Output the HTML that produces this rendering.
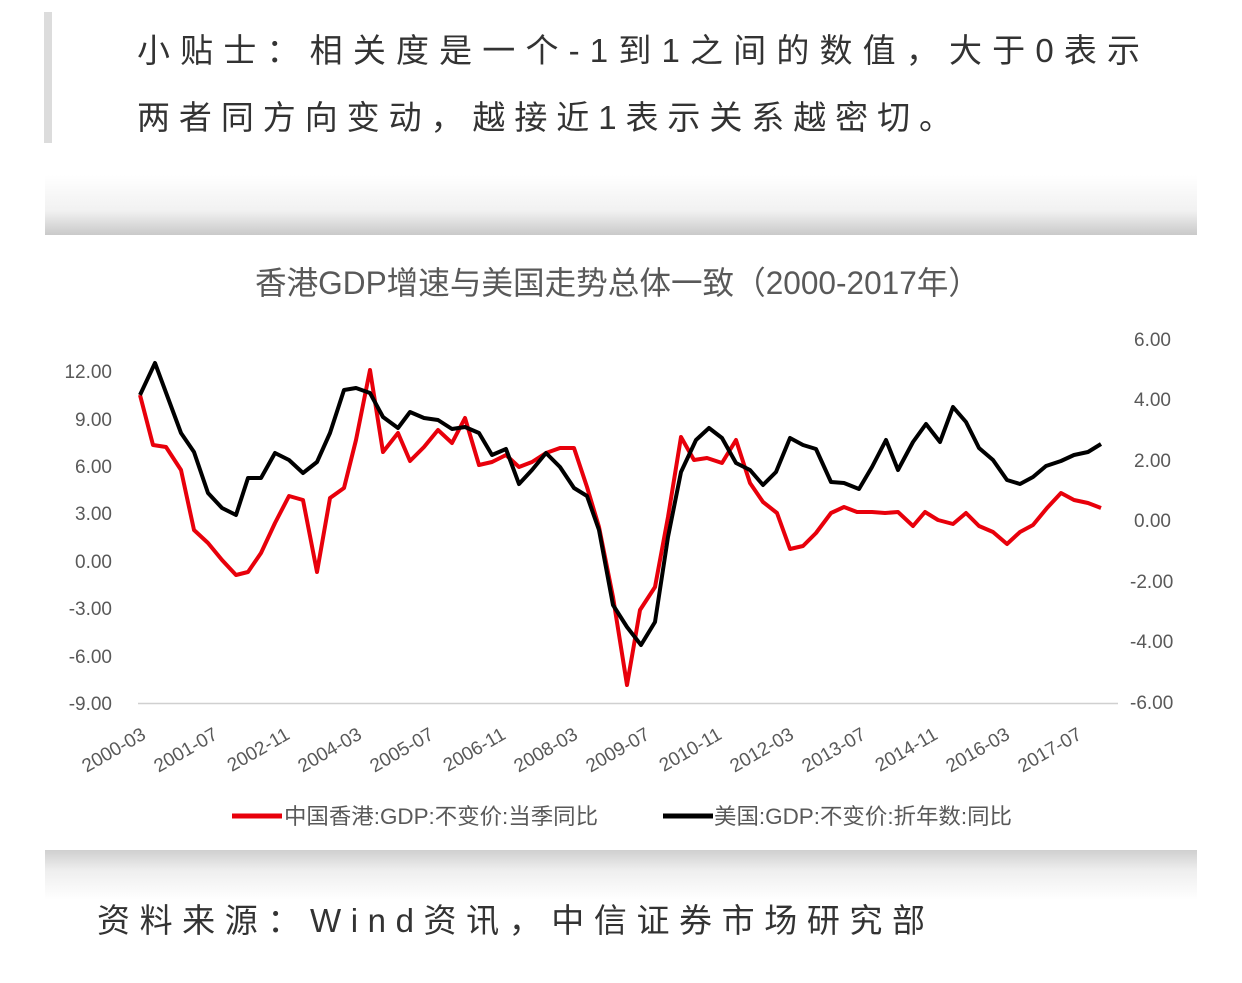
<!DOCTYPE html>
<html><head><meta charset="utf-8"><style>
html,body{margin:0;padding:0;background:#fff;}
svg{display:block;}
</style></head><body>
<svg width="1242" height="983" viewBox="0 0 1242 983" xmlns="http://www.w3.org/2000/svg">
<defs>
<linearGradient id="g1" x1="0" y1="0" x2="0" y2="1">
<stop offset="0" stop-color="#fff"/><stop offset="0.6" stop-color="#f1f1f1"/><stop offset="1" stop-color="#c9c9c9"/>
</linearGradient>
<linearGradient id="g2" x1="0" y1="0" x2="0" y2="1">
<stop offset="0" stop-color="#cfcfcf"/><stop offset="0.4" stop-color="#eeeeee"/><stop offset="1" stop-color="#fff"/>
</linearGradient>
</defs>
<rect x="0" y="0" width="1242" height="983" fill="#fff"/>
<rect x="44" y="12" width="8" height="131" fill="#dcdcdc"/>
<g font-family="Liberation Sans, 'Noto Sans CJK SC', sans-serif" fill="#333" font-size="33">
<text x="137" y="62" textLength="1003" lengthAdjust="spacing">小贴士：相关度是一个-1到1之间的数值，大于0表示</text>
<text x="137" y="129" textLength="815" lengthAdjust="spacing">两者同方向变动，越接近1表示关系越密切。</text>
<text x="97" y="932" textLength="828" lengthAdjust="spacing">资料来源：Wind资讯，中信证券市场研究部</text>
</g>
<rect x="45" y="175" width="1152" height="60" fill="url(#g1)"/>
<rect x="45" y="850" width="1152" height="50" fill="url(#g2)"/>
<g font-family="Liberation Sans, 'Noto Sans CJK SC', sans-serif" fill="#595959">
<text x="255" y="294" font-size="32" textLength="725" lengthAdjust="spacingAndGlyphs">香港GDP增速与美国走势总体一致（2000-2017年）</text>
</g>
<line x1="138" y1="703.5" x2="1118" y2="703.5" stroke="#d0d0d0" stroke-width="1.5"/>
<g font-family="Liberation Sans, sans-serif" font-size="19" fill="#595959" text-anchor="end">
<text x="112" y="378">12.00</text><text x="112" y="426">9.00</text><text x="112" y="473">6.00</text><text x="112" y="520">3.00</text><text x="112" y="568">0.00</text><text x="112" y="615">-3.00</text><text x="112" y="663">-6.00</text><text x="112" y="710">-9.00</text>
</g>
<g font-family="Liberation Sans, sans-serif" font-size="19" fill="#595959" text-anchor="start">
<text x="1134" y="346">6.00</text><text x="1134" y="406">4.00</text><text x="1134" y="467">2.00</text><text x="1134" y="527">0.00</text><text x="1130" y="588">-2.00</text><text x="1130" y="648">-4.00</text><text x="1130" y="709">-6.00</text>
</g>
<g font-family="Liberation Sans, sans-serif" font-size="19" fill="#595959" text-anchor="end">
<text transform="translate(147,738) rotate(-30)">2000-03</text>
<text transform="translate(219,738) rotate(-30)">2001-07</text>
<text transform="translate(291,738) rotate(-30)">2002-11</text>
<text transform="translate(363,738) rotate(-30)">2004-03</text>
<text transform="translate(435,738) rotate(-30)">2005-07</text>
<text transform="translate(507,738) rotate(-30)">2006-11</text>
<text transform="translate(579,738) rotate(-30)">2008-03</text>
<text transform="translate(651,738) rotate(-30)">2009-07</text>
<text transform="translate(723,738) rotate(-30)">2010-11</text>
<text transform="translate(795,738) rotate(-30)">2012-03</text>
<text transform="translate(867,738) rotate(-30)">2013-07</text>
<text transform="translate(939,738) rotate(-30)">2014-11</text>
<text transform="translate(1011,738) rotate(-30)">2016-03</text>
<text transform="translate(1083,738) rotate(-30)">2017-07</text>
</g>
<polyline fill="none" stroke="#e8000b" stroke-width="4" stroke-linejoin="round" points="140,395 153,445 166,447 181,470 194,530 208,543 222,560 236,575 248,572 261,553 275,523 289,496 303,500 317,572 330,498 344,488 356,440 370,370 383,452 398,433 410,461 424,447 438,430 452,443 465,418 479,465 492,462 506,455 519,467 532,462 546,453 560,448 574,448 587,487 599,527 613,597 627,685 640,610 655,587 668,517 681,437 694,460 707,458 722,463 736,440 750,483 763,502 777,513 790,549 803,546 816,533 831,513 844,507 857,512 872,512 885,513 898,512 913,526 925,512 938,520 953,524 966,513 979,526 993,532 1007,544 1020,532 1033,525 1047,508 1061,493 1074,500 1088,503 1101,508"/>
<polyline fill="none" stroke="#000" stroke-width="4" stroke-linejoin="round" points="140,395 155,363 168,398 181,433 194,452 208,493 222,508 236,515 248,478 261,478 275,453 289,460 303,473 317,462 330,433 344,390 356,388 370,393 383,417 398,428 410,412 424,418 438,420 452,429 465,427 479,433 492,455 506,449 519,484 532,470 546,453 560,467 574,488 587,496 599,530 613,605 627,627 641,645 655,622 668,537 681,472 696,440 709,428 722,438 736,463 750,470 763,485 776,472 790,438 803,445 816,449 831,482 844,483 859,489 872,467 886,440 898,470 913,442 926,424 940,442 953,407 966,422 979,448 993,460 1007,480 1020,484 1033,477 1046,466 1061,461 1074,455 1088,452 1101,444"/>
<line x1="232" y1="816" x2="282" y2="816" stroke="#e8000b" stroke-width="5"/>
<line x1="663" y1="816" x2="713" y2="816" stroke="#000" stroke-width="5"/>
<g font-family="Liberation Sans, 'Noto Sans CJK SC', sans-serif" font-size="22" fill="#595959">
<text x="284" y="824" textLength="314" lengthAdjust="spacingAndGlyphs">中国香港:GDP:不变价:当季同比</text>
<text x="714" y="824" textLength="298" lengthAdjust="spacingAndGlyphs">美国:GDP:不变价:折年数:同比</text>
</g>
</svg>
</body></html>
